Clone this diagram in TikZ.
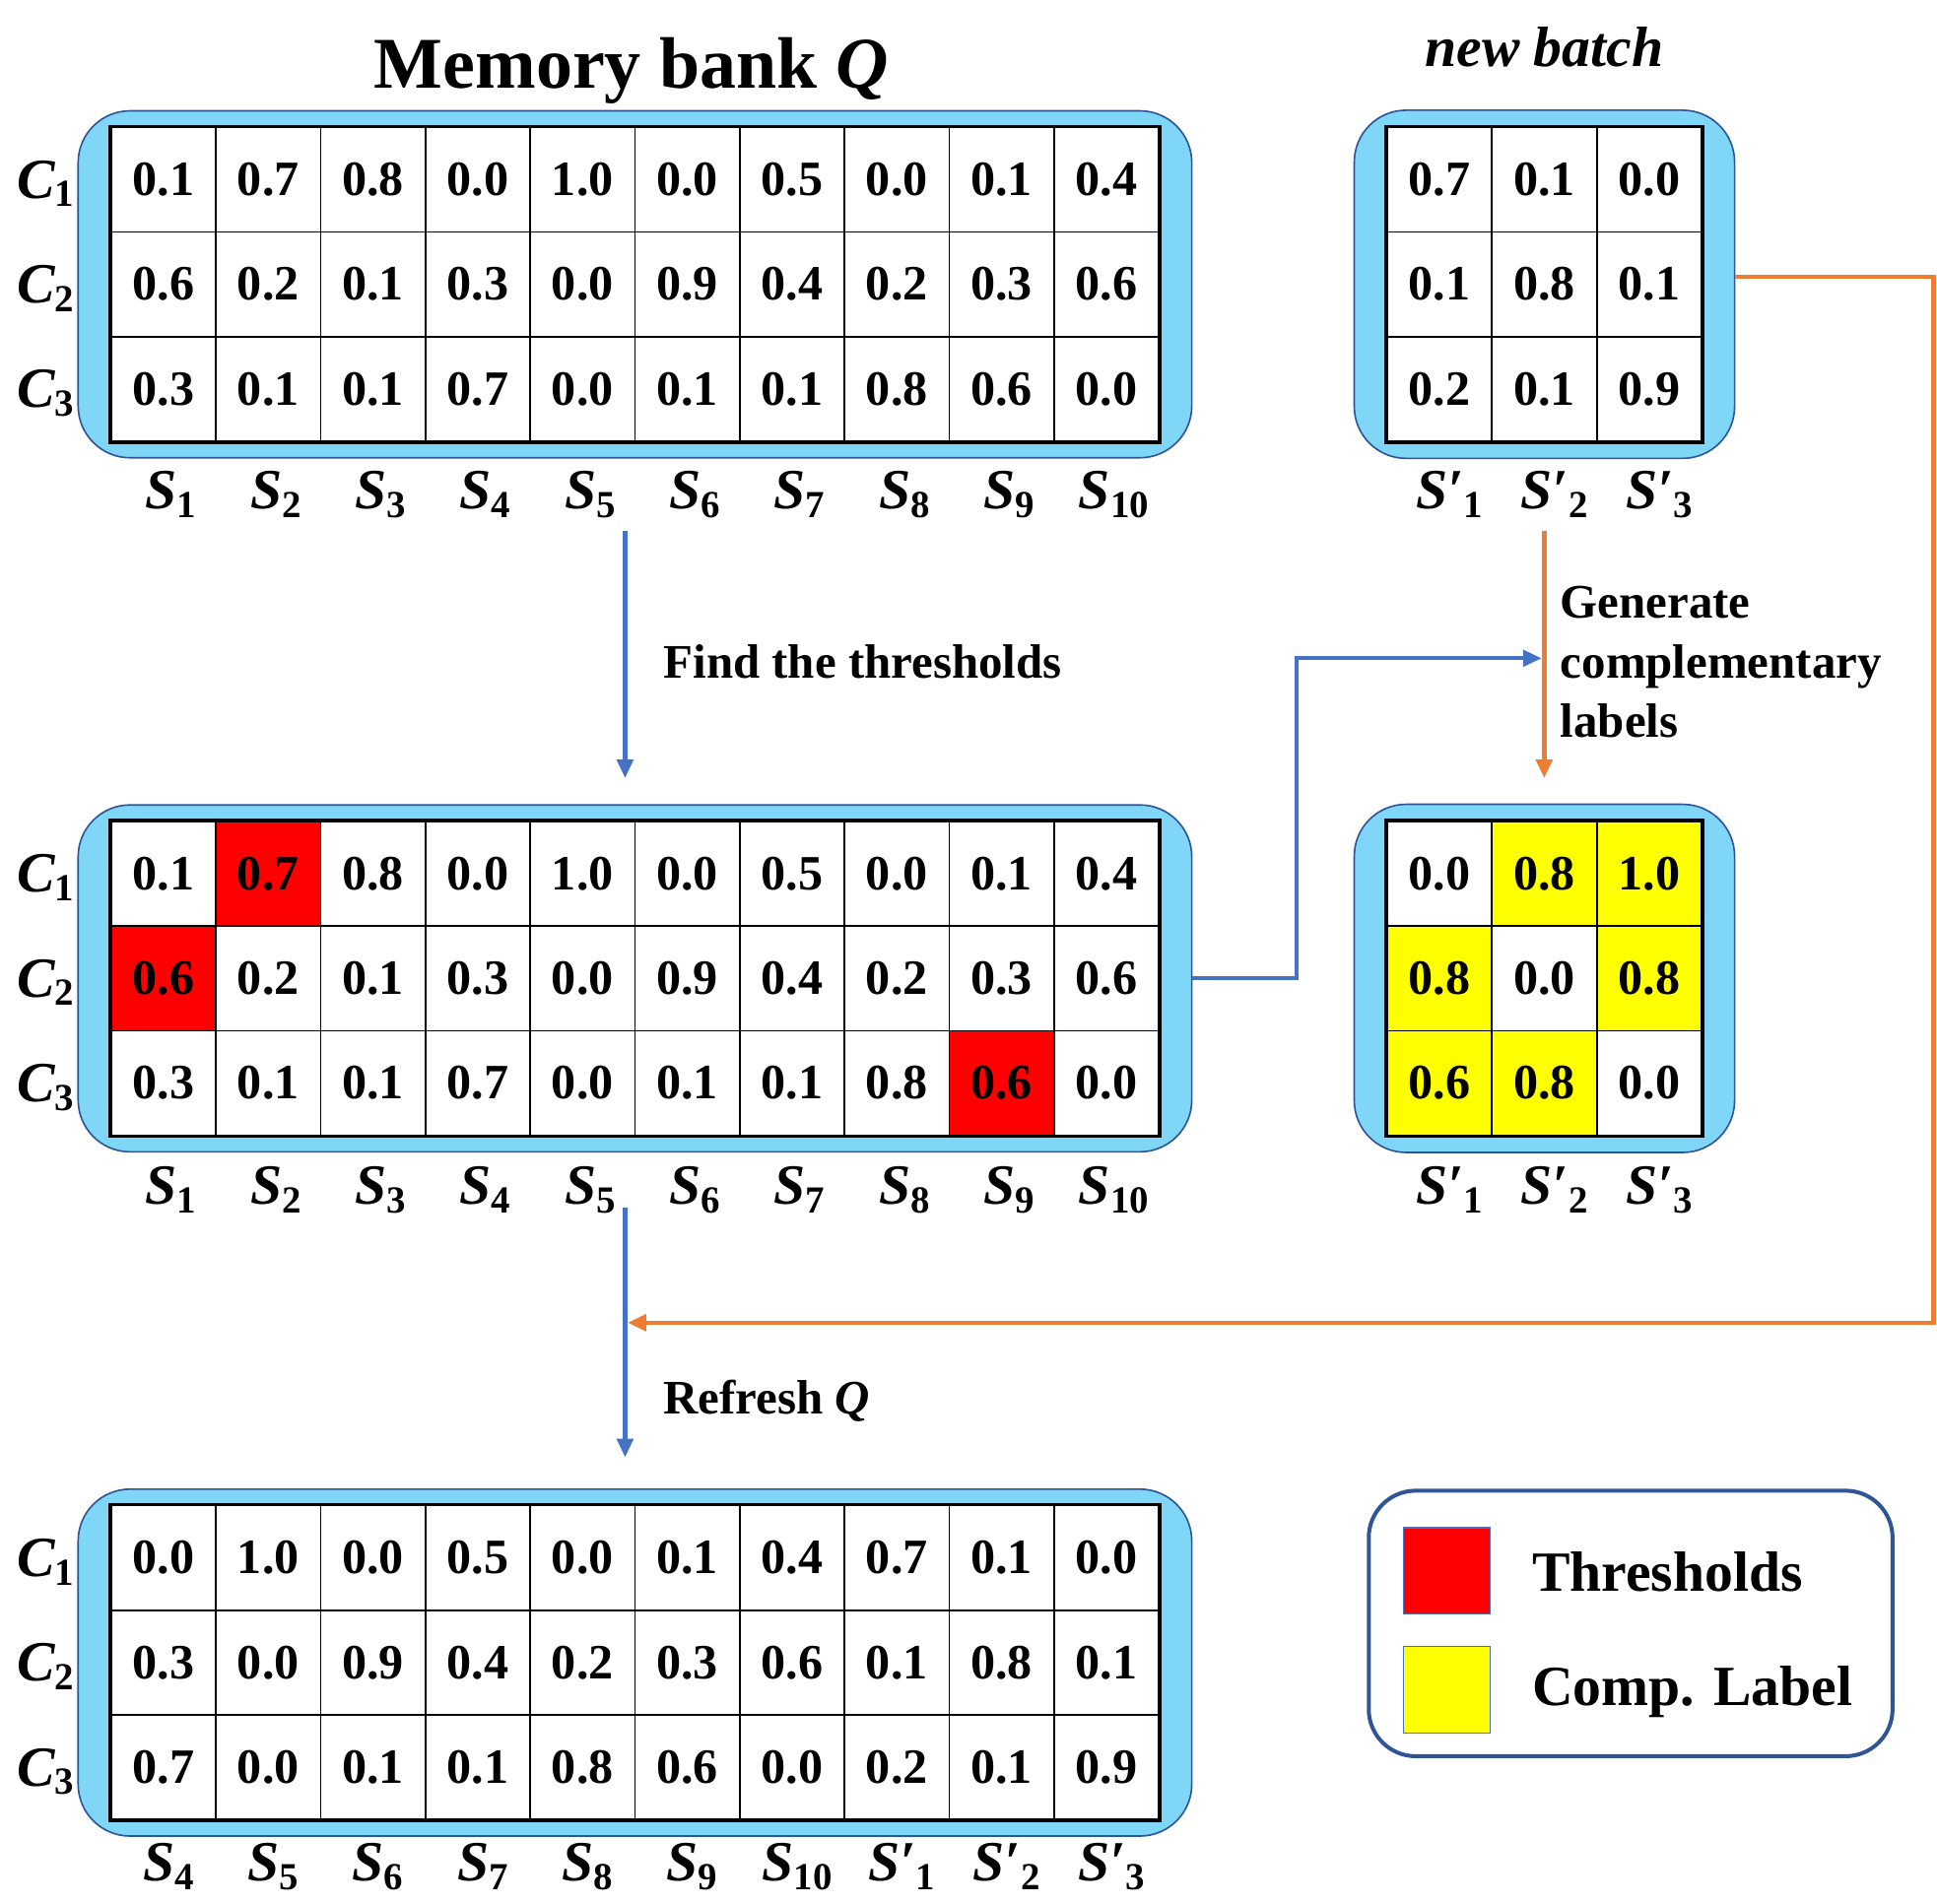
\documentclass[tikz,border=0pt]{standalone}
\usepackage{fontspec}
\setmainfont{Liberation Serif}
\usetikzlibrary{arrows.meta,fit}
\definecolor{boxblue}{HTML}{7FD6F7}
\definecolor{boxedge}{HTML}{2F5597}
\definecolor{arrblue}{HTML}{4472C4}
\definecolor{arrorange}{HTML}{ED7D31}
\definecolor{legyellow}{HTML}{FFFF00}
\definecolor{legred}{HTML}{FF0000}
\pgfdeclarelayer{bg}\pgfdeclarelayer{mid}\pgfsetlayers{bg,mid,main}
\newcommand{\vlab}[2]{{\fontsize{46}{46}\selectfont\bfseries\itshape #1}\raisebox{-7pt}{\fontsize{31}{31}\selectfont\bfseries #2}}
\newcommand{\mkgrid}[4]{%
  \foreach \rowvals [count=\r] in {#4} {
    \foreach \v [count=\c] in \rowvals {
      \node[cell] (#1-\r-\c) at ({#2+(\c-0.5)*84.8},{#3+(\r-0.5)*84.8}) {\v};
    }
  }%
}
\tikzset{
  cell/.style={draw=black, line width=1.5pt, minimum width=84.8pt, minimum height=84.8pt, inner sep=0pt, font=\fontsize{40}{40}\selectfont\bfseries},
  mbox/.style={draw=boxedge, line width=1.3pt, fill=boxblue, rounded corners=42pt, inner xsep=26pt, inner ysep=12.5pt},
  lab/.style={anchor=base, inner sep=0pt},
  bluearrow/.style={draw=arrblue, line width=3.4pt, -{Triangle[length=15pt,width=13pt]}},
  orangearrow/.style={draw=arrorange, line width=3.6pt, -{Triangle[length=15pt,width=13pt]}},
  txt/.style={font=\fontsize{39}{48}\selectfont\bfseries, inner sep=0pt, align=left},
  legtxt/.style={font=\fontsize{46}{46}\selectfont\bfseries, inner sep=0pt, anchor=west},
}
\begin{document}
\begin{tikzpicture}[x=1pt,y=-1pt]
\useasboundingbox (0,0) rectangle (1568,1541);
% ---------- grids ----------
\mkgrid{T}{90}{103}{{0.1,0.7,0.8,0.0,1.0,0.0,0.5,0.0,0.1,0.4},{0.6,0.2,0.1,0.3,0.0,0.9,0.4,0.2,0.3,0.6},{0.3,0.1,0.1,0.7,0.0,0.1,0.1,0.8,0.6,0.0}}
\mkgrid{M}{90}{665}{{0.1,0.7,0.8,0.0,1.0,0.0,0.5,0.0,0.1,0.4},{0.6,0.2,0.1,0.3,0.0,0.9,0.4,0.2,0.3,0.6},{0.3,0.1,0.1,0.7,0.0,0.1,0.1,0.8,0.6,0.0}}
\mkgrid{B}{90}{1219}{{0.0,1.0,0.0,0.5,0.0,0.1,0.4,0.7,0.1,0.0},{0.3,0.0,0.9,0.4,0.2,0.3,0.6,0.1,0.8,0.1},{0.7,0.0,0.1,0.1,0.8,0.6,0.0,0.2,0.1,0.9}}
\mkgrid{N}{1123}{103}{{0.7,0.1,0.0},{0.1,0.8,0.1},{0.2,0.1,0.9}}
\mkgrid{G}{1123}{665}{{0.0,0.8,1.0},{0.8,0.0,0.8},{0.6,0.8,0.0}}
% outer grid borders
\foreach \g/\lc in {T/10,M/10,B/10,N/3,G/3}
  \draw[line width=2.6pt] (\g-1-1.north west) rectangle (\g-3-\lc.south east);
% ---------- blue boxes and cell fills ----------
\begin{pgfonlayer}{bg}
  \node[mbox, fit=(T-1-1)(T-3-10)] (topbox) {};
  \node[mbox, fit=(M-1-1)(M-3-10)] (midbox) {};
  \node[mbox, fit=(B-1-1)(B-3-10)] (botbox) {};
  \node[mbox, fit=(N-1-1)(N-3-3), inner ysep=13pt] (nbbox) {};
  \node[mbox, fit=(G-1-1)(G-3-3), inner ysep=13pt] (compbox) {};
\end{pgfonlayer}
\begin{pgfonlayer}{mid}
  \foreach \g/\lc in {T/10,M/10,B/10,N/3,G/3}
    \fill[white] (\g-1-1.north west) rectangle (\g-3-\lc.south east);
  \foreach \cc in {M-1-2,M-2-1,M-3-9}
    \fill[legred] (\cc.north west) rectangle (\cc.south east);
  \foreach \cc in {G-1-2,G-1-3,G-2-1,G-2-3,G-3-1,G-3-2}
    \fill[legyellow] (\cc.north west) rectangle (\cc.south east);
\end{pgfonlayer}
% ---------- row labels ----------
\foreach \g/\y in {T/103,M/665,B/1219}
  \foreach \r in {1,2,3}
    \node[lab] (\g C-\r) at (37,{\y+(\r-0.5)*84.8+15}) {\vlab{C}{\r}};
% ---------- column labels ----------
\foreach \g/\y in {T/412,M/975}
  \foreach \c in {1,...,10}
    \node[lab] (\g S-\c) at ({90+(\c-0.5)*84.8+6},\y) {\vlab{S}{\c}};
\foreach \l/\s [count=\c] in {S/4,S/5,S/6,S/7,S/8,S/9,S/10,S′/1,S′/2,S′/3}
  \node[lab] (BS-\c) at ({90+(\c-0.5)*84.8+4},1523) {\vlab{\l}{\s}};
\foreach \g/\y in {N/412,G/975}
  \foreach \c in {1,2,3}
    \node[lab] (\g S-\c) at ({1123+(\c-0.5)*84.8+8},\y) {\vlab{S′}{\c}};
% ---------- titles ----------
\node[font=\fontsize{59}{59}\selectfont\bfseries, inner sep=0pt] (title) at (511,57) {Memory bank \textit{Q}};
\node[font=\fontsize{46}{46}\selectfont\bfseries\itshape, inner sep=0pt] (nbtitle) at (1250,38) {new batch};
% ---------- connectors ----------
\coordinate (f1) at (506,430);
\coordinate (f2) at (506,630);
\coordinate (r1) at (506,978);
\coordinate (r2) at (506,1180);
\coordinate (g1) at (1250,430);
\coordinate (g2) at (1250,630);
\coordinate (gj) at (1248,533);
\coordinate (rj) at (508,1071);
\coordinate (ocorner) at (1565,1071);
\draw[bluearrow] (f1) -- (f2);
\draw[bluearrow] (r1) -- (r2);
\draw[orangearrow] (g1) -- (g2);
\draw[bluearrow] (midbox.east) -- ++(84,0) |- (gj);
\draw[orangearrow] ([yshift=6pt]nbbox.east) -| (ocorner) -- (rj);
\node[txt, anchor=west] (findlbl) at (537,536) {Find the thresholds};
\node[txt, anchor=west] (reflbl) at (537,1134) {Refresh \textit{Q}};
\node[txt, anchor=west] (genlbl) at (1263,536) {Generate\\complementary\\labels};
% ---------- legend ----------
\node[draw=boxedge, line width=3.2pt, rounded corners=38pt, minimum width=424pt, minimum height=215pt, inner sep=0pt] (legend) at (1320,1314.5) {};
\node[fill=legred, draw=arrblue, line width=1pt, minimum size=70pt, inner sep=0pt] (thrsq) at (1171,1272) {};
\node[fill=legyellow, draw=arrblue, line width=1pt, minimum size=70pt, inner sep=0pt] (compsq) at (1171,1368) {};
\node[legtxt] (thrtxt) at (1240,1273) {Thresholds};
\node[legtxt] (comptxt) at (1240,1370) {Comp. Label};
\end{tikzpicture}
\end{document}
